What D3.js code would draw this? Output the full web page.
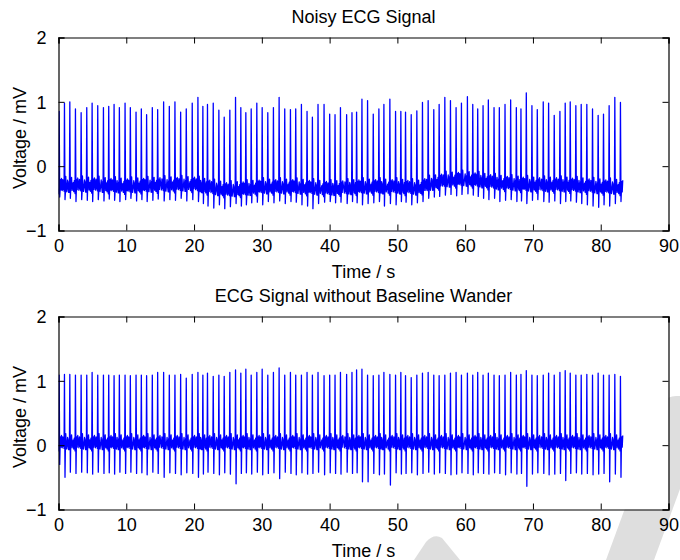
<!DOCTYPE html>
<html>
<head>
<meta charset="utf-8">
<script src="https://cdn.jsdelivr.net/npm/d3@7"></script>
<style>
  html, body { margin: 0; padding: 0; background: #fff; }
  svg { display: block; }
  text { font-family: "Liberation Sans", Arial, sans-serif; fill: #000; }
</style>
</head>
<body>
<svg id="chart" width="680" height="560"></svg>
<script>
// ---------------- data ----------------
const titles = ["Noisy ECG Signal", "ECG Signal without Baseline Wander"];
const xLabel = "Time / s";
const yLabel = "Voltage / mV";
const xTicks = [0, 10, 20, 30, 40, 50, 60, 70, 80, 90];
const yTicks = [-1, 0, 1, 2];
const signalEnd = 83.35;

// R-peak times (s)
const beatTimes = [
  0.10, 0.88, 1.67, 2.50, 3.34, 4.17, 4.96, 5.79, 6.63, 7.41, 8.20, 8.98, 9.82,
  10.60, 11.44, 12.22, 13.00, 13.84, 14.63, 15.51, 16.35, 17.18, 18.02, 18.85, 19.73, 20.57,
  21.30, 21.98, 22.83, 23.66, 24.45, 25.28, 26.12, 26.90, 27.64, 28.43, 29.26, 30.05, 30.88,
  31.71, 32.55, 33.38, 34.22, 35.00, 35.84, 36.67, 37.46, 38.29, 39.18, 40.01, 40.80,
  41.60, 42.51, 43.30, 43.98, 44.77, 45.60, 46.44, 47.27, 48.01, 48.89, 49.73, 50.51, 51.20,
  52.04, 52.87, 53.70, 54.54, 55.37, 56.16, 57.00, 57.83, 58.66, 59.45, 60.33, 61.12, 61.85, 62.64,
  63.42, 64.26, 65.04, 65.88, 66.71, 67.55, 68.23, 69.02, 69.85, 70.64, 71.52, 72.31, 73.14,
  73.98, 74.76, 75.50, 76.33, 77.12, 77.95, 78.79, 79.62, 80.41, 81.24, 82.08, 82.91
];

// Noisy signal: R peak (absolute, mV)
const rTop = [
  0.85, 0.98, 1.00, 0.89, 0.83, 0.91, 0.98, 0.94, 0.91, 0.93, 0.96, 0.91, 0.98,
  0.91, 0.84, 0.89, 0.80, 0.91, 0.88, 1.00, 0.93, 1.00, 0.84, 0.89, 0.98, 1.07,
  0.93, 0.96, 0.98, 0.87, 0.76, 0.87, 1.07, 0.91, 0.83, 0.89, 0.98, 0.91, 0.83,
  0.91, 1.07, 0.89, 0.88, 0.89, 0.96, 0.85, 0.76, 0.96, 0.96, 0.81, 0.80,
  0.91, 0.80, 0.83, 0.84, 1.04, 1.02, 0.81, 0.89, 0.96, 1.04, 0.85, 0.85, 0.84,
  0.80, 0.86, 0.99, 1.02, 0.88, 0.96, 1.07, 1.02, 0.91, 0.98, 1.08, 0.96, 0.89, 0.94,
  1.03, 0.91, 0.91, 0.96, 1.03, 0.91, 0.89, 1.14, 0.94, 0.88, 1.00, 0.98, 0.79,
  0.85, 0.98, 1.00, 0.94, 0.96, 0.96, 0.89, 0.79, 0.81, 0.94, 1.07, 0.99
];
// Noisy signal: S trough (absolute, mV)
const sTop = [
  -0.48, -0.52, -0.50, -0.55, -0.52, -0.53, -0.55, -0.52, -0.54, -0.51, -0.53, -0.55, -0.52,
  -0.50, -0.54, -0.52, -0.55, -0.53, -0.51, -0.54, -0.52, -0.53, -0.50, -0.54, -0.52, -0.55,
  -0.58, -0.62, -0.65, -0.60, -0.66, -0.63, -0.58, -0.62, -0.60, -0.57, -0.56, -0.60, -0.55,
  -0.57, -0.54, -0.58, -0.55, -0.56, -0.60, -0.62, -0.66, -0.58, -0.56, -0.55, -0.57,
  -0.56, -0.58, -0.55, -0.57, -0.60, -0.58, -0.57, -0.55, -0.62, -0.58, -0.60, -0.55, -0.56,
  -0.60, -0.57, -0.55, -0.50, -0.48, -0.47, -0.45, -0.44, -0.46, -0.44, -0.43, -0.45, -0.47, -0.50,
  -0.52, -0.50, -0.55, -0.53, -0.52, -0.55, -0.54, -0.58, -0.53, -0.52, -0.55, -0.56, -0.54,
  -0.58, -0.55, -0.54, -0.56, -0.58, -0.60, -0.62, -0.64, -0.60, -0.62, -0.58, -0.55
];
// Baseline wander of the noisy signal (knots)
const baseT = [0, 5, 10, 15, 20, 23, 25, 28, 30, 35, 40, 45, 50, 53, 55, 57, 60, 62, 65, 70, 75, 80, 83.4];
const baseV = [-0.31, -0.30, -0.32, -0.30, -0.29, -0.35, -0.38, -0.36, -0.33, -0.33, -0.36, -0.33, -0.33, -0.35, -0.28, -0.23, -0.21, -0.23, -0.27, -0.30, -0.30, -0.33, -0.34];

// Filtered signal: R peak / S trough (absolute, mV)
const rBot = [
  1.09, 1.10, 1.10, 1.09, 1.09, 1.09, 1.13, 1.09, 1.09, 1.09, 1.08, 1.09, 1.09,
  1.08, 1.09, 1.09, 1.08, 1.09, 1.13, 1.13, 1.09, 1.09, 1.10, 1.04, 1.10, 1.13,
  1.09, 1.12, 1.07, 1.09, 1.07, 1.13, 1.17, 1.12, 1.18, 1.09, 1.13, 1.18, 1.09,
  1.13, 1.20, 1.09, 1.13, 1.09, 1.09, 1.13, 1.09, 1.13, 1.08, 1.09, 1.09,
  1.13, 1.10, 1.13, 1.17, 1.18, 1.09, 1.08, 1.09, 1.13, 1.10, 1.09, 1.13, 1.08,
  1.05, 1.09, 1.12, 1.13, 1.09, 1.08, 1.09, 1.12, 1.13, 1.09, 1.12, 1.09, 1.13, 1.09,
  1.12, 1.09, 1.08, 1.09, 1.13, 1.09, 1.10, 1.16, 1.09, 1.08, 1.09, 1.12, 1.09,
  1.13, 1.16, 1.12, 1.09, 1.09, 1.10, 1.09, 1.12, 1.09, 1.09, 1.10, 1.07
];
const sBot = [
  -0.30, -0.50, -0.42, -0.44, -0.42, -0.43, -0.45, -0.42, -0.44, -0.43, -0.45, -0.42, -0.44,
  -0.42, -0.44, -0.43, -0.46, -0.42, -0.44, -0.50, -0.43, -0.44, -0.46, -0.43, -0.44, -0.50,
  -0.45, -0.42, -0.44, -0.46, -0.43, -0.45, -0.60, -0.44, -0.43, -0.45, -0.42, -0.46, -0.44,
  -0.43, -0.52, -0.42, -0.44, -0.46, -0.43, -0.45, -0.44, -0.42, -0.46, -0.43, -0.44,
  -0.45, -0.42, -0.44, -0.43, -0.57, -0.57, -0.44, -0.46, -0.45, -0.62, -0.43, -0.45, -0.44,
  -0.43, -0.46, -0.44, -0.42, -0.45, -0.43, -0.44, -0.46, -0.45, -0.43, -0.44, -0.46, -0.43, -0.44,
  -0.45, -0.43, -0.44, -0.46, -0.43, -0.45, -0.44, -0.64, -0.45, -0.43, -0.44, -0.46, -0.45,
  -0.44, -0.55, -0.44, -0.43, -0.45, -0.44, -0.46, -0.45, -0.44, -0.57, -0.45, -0.50
];

// Shape of the noisy band around each beat (offset s, offset mV); R (index 5) and S (index 6) are null
const shapeDt = [-0.33, -0.25, -0.17, -0.10, -0.06, 0, 0.08, 0.13, 0.19, 0.26, 0.34];
const shapeA  = [0.05, -0.09, 0.08, -0.04, -0.12, null, null, -0.08, 0.10, -0.06, 0.12];
const shapeB  = [-0.07, 0.10, -0.05, 0.06, -0.08, null, null, -0.12, 0.15, -0.02, -0.09];
const shapeC  = [0.09, -0.03, -0.10, 0.07, -0.10, null, null, -0.05, 0.04, 0.13, -0.07];
const shapes = [shapeA, shapeB, shapeC];

// ---------------- layout ----------------
const svg = d3.select("#chart");
const left = 58.5, right = 668.5;
const panels = [
  { top: 37.5, bottom: 230.5 },
  { top: 316.5, bottom: 509.5 }
];

// faint watermark behind everything
const wm = svg.append("g").attr("fill", "#dedede");
wm.append("path").attr("d", "M664,402 Q668,396 676,396 L714,396 L654,560 L606,560 Z");
wm.append("path").attr("d", "M414,560 L426,542 Q434,533 442,538 L460,560 Z");

const baseline = d3.scaleLinear().domain(baseT).range(baseV);

function buildSeries(rArr, sArr, baseFn) {
  const pts = [];
  beatTimes.forEach((t0, i) => {
    const shape = shapes[i % shapes.length];
    shapeDt.forEach((dt, k) => {
      const t = t0 + dt;
      if (t < 0 || t > signalEnd) return;
      let v;
      if (k === 5) v = rArr[i];
      else if (k === 6) v = sArr[i];
      else v = baseFn(t) + shape[k];
      pts.push([t, v]);
    });
  });
  return pts;
}

const series = [
  buildSeries(rTop, sTop, t => baseline(t)),
  buildSeries(rBot, sBot, t => 0.03)
];

panels.forEach((p, idx) => {
  const x = d3.scaleLinear().domain([0, 90]).range([left, right]);
  const y = d3.scaleLinear().domain([-1, 2]).range([p.bottom, p.top]);
  const g = svg.append("g");

  g.append("rect").attr("x", left).attr("y", p.top)
    .attr("width", right - left).attr("height", p.bottom - p.top)
    .attr("fill", "#fff");

  const clipId = "clip" + idx;
  g.append("clipPath").attr("id", clipId).append("rect")
    .attr("x", left).attr("y", p.top).attr("width", right - left).attr("height", p.bottom - p.top);

  const line = d3.line().x(d => x(d[0])).y(d => y(d[1]));
  g.append("path").datum(series[idx])
    .attr("clip-path", `url(#${clipId})`)
    .attr("fill", "none").attr("stroke", "#0000ff").attr("stroke-width", 1.3)
    .attr("stroke-linejoin", "round")
    .attr("d", line);

  // axes (MATLAB box, ticks inward on all sides)
  const tl = 6;
  const axB = g.append("g").attr("transform", `translate(0,${p.bottom})`)
    .call(d3.axisBottom(x).tickValues(xTicks).tickSize(-tl).tickPadding(9).tickFormat(d3.format("d")));
  const axT = g.append("g").attr("transform", `translate(0,${p.top})`)
    .call(d3.axisTop(x).tickValues(xTicks).tickSize(-tl).tickFormat(""));
  const axL = g.append("g").attr("transform", `translate(${left},0)`)
    .call(d3.axisLeft(y).tickValues(yTicks).tickSize(-tl).tickPadding(12).tickFormat(d3.format("d")));
  const axR = g.append("g").attr("transform", `translate(${right},0)`)
    .call(d3.axisRight(y).tickValues(yTicks).tickSize(-tl).tickFormat(""));
  [axB, axT, axL, axR].forEach(a => {
    a.select(".domain").attr("stroke", "#000").attr("stroke-width", 1.2);
    a.selectAll(".tick line").attr("stroke", "#000").attr("stroke-width", 1);
    a.selectAll("text").attr("font-family", '"Liberation Sans", Arial, sans-serif')
      .attr("font-size", 18).attr("fill", "#000");
  });
  axB.selectAll("text").attr("dy", "0.71em");
  axL.selectAll("text").attr("dy", "0.35em");

  // titles & labels
  g.append("text").attr("x", (left + right) / 2).attr("y", p.top - 15)
    .attr("text-anchor", "middle").attr("font-size", 18).text(titles[idx]);
  g.append("text").attr("x", (left + right) / 2).attr("y", p.bottom + 47)
    .attr("text-anchor", "middle").attr("font-size", 18).text(xLabel);
  g.append("text")
    .attr("transform", `translate(26,${(p.top + p.bottom) / 2 + 4}) rotate(-90)`)
    .attr("text-anchor", "middle").attr("font-size", 18).text(yLabel);
});
</script>
</body>
</html>
